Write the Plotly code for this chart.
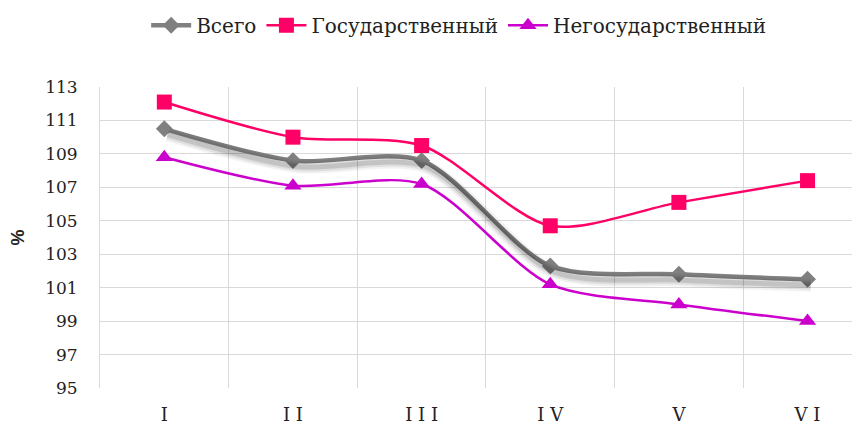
import plotly.graph_objects as go

categories = ["I", "I I", "I I I", "I V", "V", "V I"]
vsego = [110.5, 108.6, 108.6, 102.3, 101.8, 101.5]
gos = [112.1, 110.0, 109.5, 104.7, 106.1, 107.4]
negos = [108.8, 107.1, 107.2, 101.2, 100.0, 99.0]
yticks = [95, 97, 99, 101, 103, 105, 107, 109, 111, 113]

FONT = "DejaVu Serif"
fig = go.Figure()

# shadow of the "Всего" line, drawn on slightly offset overlay axes
for w, a in [(13, 0.05), (9, 0.08), (5, 0.12)]:
    fig.add_trace(go.Scatter(
        x=list(range(len(categories))), y=vsego, mode="lines",
        line=dict(color=f"rgba(0,0,0,{a})", width=w, shape="spline", smoothing=0.8),
        xaxis="x2", yaxis="y2", showlegend=False, hoverinfo="skip"))

fig.add_trace(go.Scatter(
    x=categories, y=vsego, name="Всего", mode="lines+markers",
    line=dict(color="#808080", width=4.5, shape="spline", smoothing=0.8),
    marker=dict(symbol="diamond", size=13, color="#808080")))
fig.add_trace(go.Scatter(
    x=categories, y=gos, name="Государственный", mode="lines+markers",
    line=dict(color="#ff0066", width=2.5, shape="spline", smoothing=0.8),
    marker=dict(symbol="square", size=15, color="#ff0066")))
fig.add_trace(go.Scatter(
    x=categories, y=negos, name="Негосударственный", mode="lines+markers",
    line=dict(color="#cc00cc", width=2.5, shape="spline", smoothing=0.8),
    marker=dict(symbol="triangle-up", size=15, color="#cc00cc")))

xr = [-0.5, 5.47]
yr = [95, 113]
fig.update_layout(
    width=860, height=426,
    margin=dict(l=92, r=0, t=79, b=46, autoexpand=False),
    paper_bgcolor="white", plot_bgcolor="white",
    font=dict(family=FONT, size=17, color="#222"),
    showlegend=True,
    legend=dict(orientation="h", x=0.467, xanchor="center", y=1.27, yanchor="top",
                yref="paper", font=dict(family=FONT, size=20),
                itemwidth=40, tracegroupgap=0),
    xaxis=dict(type="category", range=xr, tickson="boundaries",
               showgrid=True, gridcolor="#d9d9d9", gridwidth=1,
               ticks="", ticklabelstandoff=14,
               showline=False, zeroline=False, automargin=False,
               tickfont=dict(family=FONT, size=18, color="#222")),
    yaxis=dict(range=yr, tickvals=yticks, showgrid=True, gridcolor="#d9d9d9",
               gridwidth=1, zeroline=False, showline=True, linecolor="#d9d9d9",
               ticks="outside", ticklen=18, tickcolor="rgba(0,0,0,0)",
               automargin=False,
               tickfont=dict(family=FONT, size=17, color="#222"),
               title=dict(text="<b>%</b>", font=dict(family="Liberation Sans", size=18, color="#222"),
                          standoff=24)),
    xaxis2=dict(overlaying="x", range=[xr[0] - 0.025, xr[1] - 0.025], visible=False),
    yaxis2=dict(overlaying="y", range=[yr[0] + 0.35, yr[1] + 0.35], visible=False),
)
fig.write_html("out.html")
